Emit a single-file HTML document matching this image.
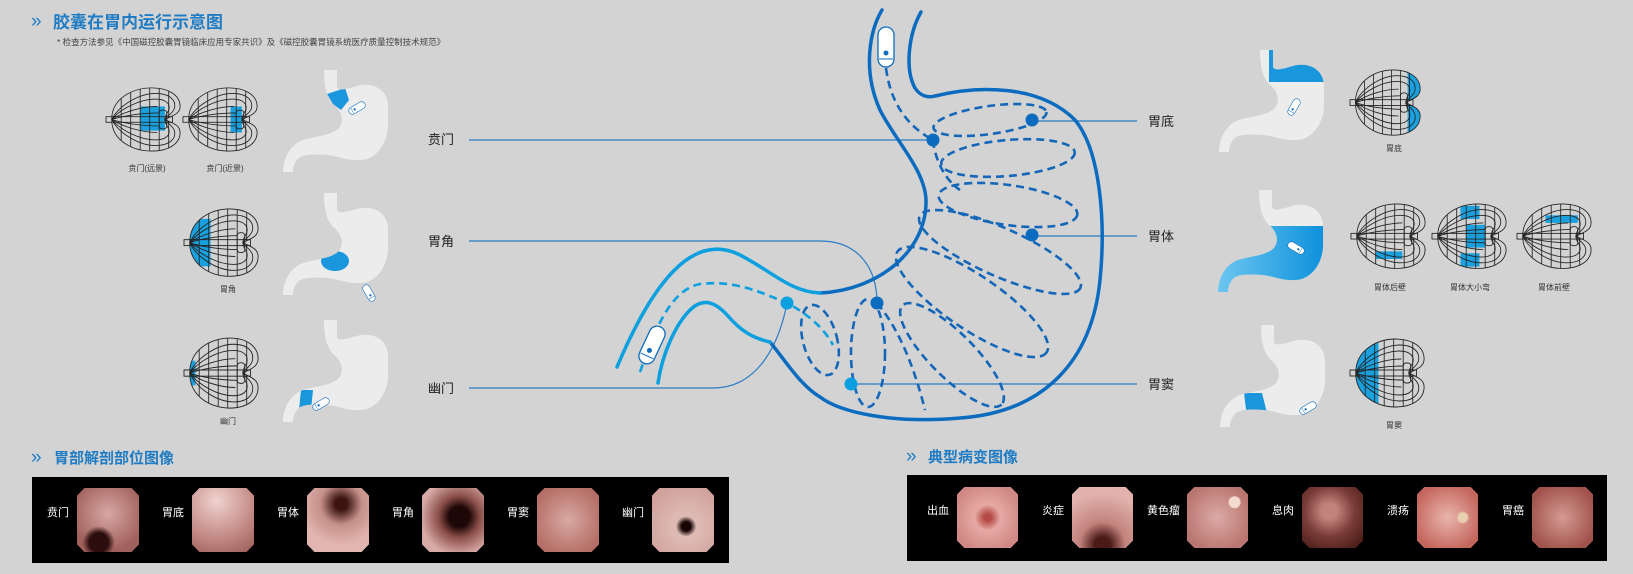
<!DOCTYPE html>
<html><head><meta charset="utf-8"><style>
html,body{margin:0;padding:0;background:#d3d3d3;}
body{width:1633px;height:574px;position:relative;overflow:hidden;font-family:"Liberation Sans","Noto Sans CJK SC",sans-serif;}
svg{position:absolute;left:0;top:0;}
.strip{position:absolute;background:#000;overflow:hidden;}
.im{position:absolute;width:62px;height:64px;clip-path:polygon(12% 0,88% 0,100% 12%,100% 88%,88% 100%,12% 100%,0 88%,0 12%);}
.lb{position:absolute;color:#fff;font-size:11px;top:27px;}
</style></head><body>
<svg width="1633" height="574" viewBox="0 0 1633 574">
<defs>
<path id="stp" d="M41,0 L54,0 L54,17 C56,22 66,18 74,16 C88,12 104,18 105,35 L105,57 C104,75 92,90 77,90 C64,91 56,86 44,85 C30,84 18,84 14,90 C11,94 10,98 10,102 L0,102 C0,90 6,75 20,70 C32,66 48,66 56,58 C62,50 58,40 50,34 C45,28 41,20 41,0 Z"/>
<clipPath id="stc"><use href="#stp"/></clipPath>
<path id="gout" d="M6,36 C6,12 30,2 48,2 C66,2 78,10 78,22 C78,30 70,32 62,36 C70,40 78,42 78,50 C78,62 66,70 48,70 C30,70 6,60 6,36 Z"/>
<clipPath id="gc"><use href="#gout"/></clipPath>
<g id="grid" fill="none" stroke="#222" stroke-width="0.9">
<use href="#gout"/>
<g clip-path="url(#gc)">
<path d="M16,0V72M26,0V72M36,0V72M46,0V72M56,0V72M66,0V72"/>
</g>
<path d="M6,36 C14,20 36,8 52,8 C68,8 74,16 72,24 C70,30 64,32 62,36"/>
<path d="M6,36 C16,24 36,14 52,14 C64,14 68,20 66,26 C64,30 62,32 62,36"/>
<path d="M6,36 C18,28 38,22 54,22"/>
<path d="M6,36 C18,32 38,29 56,29"/>
<path d="M6,36 C14,52 36,64 52,64 C68,64 74,56 72,48 C70,42 64,40 62,36"/>
<path d="M6,36 C16,48 36,58 52,58 C64,58 68,52 66,46 C64,42 62,40 62,36"/>
<path d="M6,36 C18,44 38,50 54,50"/>
<path d="M6,36 C18,40 38,43 56,43"/>
<rect x="0" y="33" width="70" height="6" fill="none"/>
<rect x="56" y="26" width="8" height="20" rx="3"/>
</g>
<linearGradient id="bg1" x1="0" x2="1"><stop offset="0" stop-color="#6cc6ef"/><stop offset="1" stop-color="#0a8fdc"/></linearGradient>
<g id="cap"><rect x="-8" y="-20" width="16" height="40" rx="8" fill="#fff" stroke="#0b6cbf" stroke-width="1.3"/><line x1="-7" y1="12" x2="7" y2="12" stroke="#0b6cbf"/><circle cx="0" cy="6" r="2.5" fill="#0b6cbf"/></g>
</defs>

<text x="31" y="27" font-size="19" fill="#1f7cc4" font-family="Liberation Sans">»</text>
<text x="53" y="28" font-size="17" font-weight="bold" fill="#1f7cc4" font-family="Liberation Sans,Noto Sans CJK SC,sans-serif">胶囊在胃内运行示意图</text>
<text x="57" y="45" font-size="8.5" fill="#444" font-family="Liberation Sans,Noto Sans CJK SC,sans-serif">* 检查方法参见《中国磁控胶囊胃镜临床应用专家共识》及《磁控胶囊胃镜系统医疗质量控制技术规范》</text>
<text x="31" y="463" font-size="19" fill="#1f7cc4">»</text>
<text x="54" y="463" font-size="15" font-weight="bold" fill="#1f7cc4" font-family="Liberation Sans,Noto Sans CJK SC,sans-serif">胃部解剖部位图像</text>
<text x="906" y="462" font-size="19" fill="#1f7cc4">»</text>
<text x="928" y="462" font-size="15" font-weight="bold" fill="#1f7cc4" font-family="Liberation Sans,Noto Sans CJK SC,sans-serif">典型病变图像</text>

<g transform="translate(106,86) scale(0.95,0.93)"><g clip-path="url(#gc)"><rect x="36" y="22" width="26" height="26" fill="#1aa0dd"/></g><use href="#grid"/></g>
<g transform="translate(183,86) scale(0.95,0.93)"><g clip-path="url(#gc)"><rect x="50" y="22" width="12" height="28" fill="#1aa0dd"/></g><use href="#grid"/></g>
<g transform="translate(184,207) scale(0.95,0.99)"><g clip-path="url(#gc)"><rect x="6" y="12" width="22" height="48" fill="#1aa0dd"/></g><use href="#grid"/></g>
<g transform="translate(184,336) scale(0.95,1.03)"><g clip-path="url(#gc)"><rect x="6" y="24" width="6" height="24" fill="#1aa0dd"/></g><use href="#grid"/></g>
<g font-size="8" fill="#333" text-anchor="middle" font-family="Liberation Sans,Noto Sans CJK SC,sans-serif">
<text x="147" y="171">贲门(远景)</text><text x="225" y="171">贲门(近景)</text>
<text x="228" y="292">胃角</text><text x="228" y="424">幽门</text>
<text x="1394" y="151">胃底</text><text x="1390" y="290">胃体后壁</text><text x="1470" y="290">胃体大小弯</text><text x="1554" y="290">胃体前壁</text><text x="1394" y="428">胃窦</text>
</g>

<g transform="translate(283,70)"><use href="#stp" fill="#ececec"/><g clip-path="url(#stc)"><polygon points="44,24 62,18 66,30 58,40 50,34" fill="#1a96dd"/></g><g transform="translate(74,38) rotate(60) scale(0.45)"><use href="#cap"/></g></g>
<g transform="translate(283,193)"><use href="#stp" fill="#ececec"/><g clip-path="url(#stc)"><ellipse cx="52" cy="68" rx="14" ry="10" fill="#1a96dd"/></g><g transform="translate(86,100) rotate(-30) scale(0.45)"><use href="#cap"/></g></g>
<g transform="translate(283,320)"><use href="#stp" fill="#ececec"/><g clip-path="url(#stc)"><polygon points="18,70 30,70 28,90 16,90" fill="#1a96dd"/></g><g transform="translate(38,84) rotate(60) scale(0.45)"><use href="#cap"/></g></g>

<g transform="translate(1219,50)"><use href="#stp" fill="#ececec"/><g clip-path="url(#stc)"><rect x="50" y="0" width="60" height="32" fill="#1a96dd"/></g><g transform="translate(75,57) rotate(30) scale(0.45)"><use href="#cap"/></g></g>
<g transform="translate(1218,190)"><use href="#stp" fill="#ececec"/><g clip-path="url(#stc)"><rect x="0" y="36" width="110" height="70" fill="url(#bg1)"/></g><g transform="translate(78,58) rotate(-60) scale(0.45)"><use href="#cap"/></g></g>
<g transform="translate(1220,325)"><use href="#stp" fill="#ececec"/><g clip-path="url(#stc)"><polygon points="24,68 42,68 50,100 28,100" fill="#1a96dd"/></g><g transform="translate(88,83) rotate(60) scale(0.45)"><use href="#cap"/></g></g>

<g transform="translate(1350,68) scale(0.9,0.96)"><g clip-path="url(#gc)"><rect x="64" y="0" width="16" height="72" fill="#1aa0dd"/></g><use href="#grid"/></g>
<g transform="translate(1351,202) scale(0.95,0.95)"><g clip-path="url(#gc)"><rect x="26" y="52" width="28" height="8" fill="#1aa0dd"/></g><use href="#grid"/></g>
<g transform="translate(1432,202) scale(0.95,0.95)"><g clip-path="url(#gc)"><rect x="30" y="4" width="20" height="14" fill="#1aa0dd"/><rect x="36" y="24" width="20" height="24" fill="#1aa0dd"/><rect x="30" y="54" width="20" height="14" fill="#1aa0dd"/></g><use href="#grid"/></g>
<g transform="translate(1517,202) scale(0.95,0.95)"><g clip-path="url(#gc)"><rect x="30" y="14" width="34" height="8" fill="#1aa0dd"/></g><use href="#grid"/></g>
<g transform="translate(1350,337) scale(0.95,1.0)"><g clip-path="url(#gc)"><rect x="6" y="0" width="24" height="72" fill="#1aa0dd"/></g><use href="#grid"/></g>

<g font-size="13" fill="#222" font-family="Liberation Sans,Noto Sans CJK SC,sans-serif">
<text x="428" y="144">贲门</text><text x="428" y="246">胃角</text><text x="428" y="393">幽门</text>
<text x="1148" y="126">胃底</text><text x="1148" y="241">胃体</text><text x="1148" y="389">胃窦</text>
</g>
<g fill="none" stroke="#2b7cc4" stroke-width="1.2">
<path d="M469,140 H933"/>
<path d="M469,241 H820 C860,241 877,270 877,303"/>
<path d="M469,388 H713 C760,388 780,340 787,303"/>
<path d="M1032,121 H1137"/><path d="M1032,236 H1137"/><path d="M851,384 H1137"/>
</g>
<g fill="none" stroke-linecap="round" stroke-width="3.5">
<path stroke="#0b6cbf" d="M882,10 C870,30 862,70 880,110 C895,140 925,170 926,200 C927,250 880,290 820,293"/>
<path stroke="#0aa0e0" d="M820,293 C790,292 770,270 740,255 C700,235 660,265 617,367"/>
<path stroke="#0b6cbf" d="M921,12 C908,35 905,70 915,88 C920,96 928,98 935,96 C980,85 1040,85 1075,120 C1100,150 1106,220 1100,280 C1092,360 1045,412 960,418 C890,424 840,412 820,397 C800,385 785,360 770,342"/>
<path stroke="#0aa0e0" d="M770,342 C752,338 740,330 728,316 C712,298 700,300 690,310 C675,325 662,355 658,383"/>
</g>
<g fill="none" stroke="#1466b8" stroke-width="2.6" stroke-dasharray="8 5">
<path d="M886,68 C890,100 905,125 933,140"/>
<ellipse cx="990" cy="120" rx="57" ry="14" transform="rotate(-8 990 120)"/>
<ellipse cx="1008" cy="158" rx="67" ry="18" transform="rotate(-5 1008 158)"/>
<ellipse cx="1008" cy="205" rx="70" ry="20" transform="rotate(8 1008 205)"/>
<ellipse cx="1000" cy="252" rx="88" ry="24" transform="rotate(24 1000 252)"/>
<ellipse cx="972" cy="302" rx="90" ry="27" transform="rotate(34 972 302)"/>
<ellipse cx="952" cy="355" rx="70" ry="22" transform="rotate(45 952 355)"/>
<ellipse cx="868" cy="353" rx="17" ry="54"/>
<ellipse cx="820" cy="340" rx="17" ry="36" transform="rotate(-15 820 340)"/>
<path d="M933,140 C935,160 945,180 960,190"/>
<path d="M877,303 C900,330 915,370 925,410"/>
</g>
<path fill="none" stroke="#0aa0e0" stroke-width="2.6" stroke-dasharray="8 5" d="M640,372 C655,330 670,290 700,284 C735,280 760,292 787,303 C810,315 825,330 833,345"/>
<g fill="#0b6cbf"><circle cx="933" cy="140" r="6.5"/><circle cx="1032" cy="120" r="6.5"/><circle cx="1032" cy="235" r="6.5"/><circle cx="877" cy="303" r="6.5"/></g>
<g fill="#0aa0e0"><circle cx="787" cy="303" r="6.5"/><circle cx="851" cy="384" r="6.5"/></g>
<g transform="translate(886,47)"><use href="#cap"/></g>
<g transform="translate(652,345) rotate(25)"><use href="#cap"/></g>
</svg>

<div class="strip" style="left:32px;top:477px;width:697px;height:86px;">
<span class="lb" style="left:15px">贲门</span><div class="im" style="left:45px;top:11px;background:radial-gradient(circle at 35% 85%,#2a0d0c 0 14%,transparent 24%),radial-gradient(circle at 50% 40%,#d9a7a3,#a0615c 75%);"></div>
<span class="lb" style="left:130px">胃底</span><div class="im" style="left:160px;top:11px;background:radial-gradient(circle at 40% 20%,#efd2cf,#c28883 60%,#9a5b55);"></div>
<span class="lb" style="left:245px">胃体</span><div class="im" style="left:275px;top:11px;background:radial-gradient(circle at 55% 25%,#3b1310 0 10%,#c58f88 35%,#e2b6b0 70%);"></div>
<span class="lb" style="left:360px">胃角</span><div class="im" style="left:390px;top:11px;background:radial-gradient(circle at 60% 45%,#1d0807 0 20%,#8a4d48 40%,#d7aaa5 75%);"></div>
<span class="lb" style="left:475px">胃窦</span><div class="im" style="left:505px;top:11px;background:radial-gradient(circle at 50% 50%,#d8a9a2,#b56e66 80%);"></div>
<span class="lb" style="left:590px">幽门</span><div class="im" style="left:620px;top:11px;background:radial-gradient(circle at 55% 60%,#180605 0 9%,#e0bcb6 20%,#d1a29c 80%);"></div>
</div>
<div class="strip" style="left:907px;top:475px;width:700px;height:86px;">
<span class="lb" style="left:20px">出血</span><div class="im" style="left:50px;top:12px;width:61px;height:61px;background:radial-gradient(circle at 50% 50%,#b34a45 0 8%,#e7a9a4 30%,#cf8883 80%);"></div>
<span class="lb" style="left:135px">炎症</span><div class="im" style="left:165px;top:12px;width:61px;height:61px;background:radial-gradient(circle at 50% 95%,#4a1a17 0 12%,#c3837d 35%,#e2b3ae 80%);"></div>
<span class="lb" style="left:240px">黄色瘤</span><div class="im" style="left:280px;top:12px;width:61px;height:61px;background:radial-gradient(circle at 78% 25%,#f3dccf 0 8%,transparent 10%),radial-gradient(circle at 50% 50%,#dcaaa6,#b9756f 80%);"></div>
<span class="lb" style="left:365px">息肉</span><div class="im" style="left:395px;top:12px;width:61px;height:61px;background:radial-gradient(circle at 45% 40%,#c2837d 0 15%,#7a3d37 50%,#4a1c18 90%);"></div>
<span class="lb" style="left:480px">溃疡</span><div class="im" style="left:510px;top:12px;width:61px;height:61px;background:radial-gradient(circle at 75% 50%,#e8d0b0 0 8%,transparent 12%),radial-gradient(circle at 50% 50%,#e9b5ad,#c4665d 80%);"></div>
<span class="lb" style="left:595px">胃癌</span><div class="im" style="left:625px;top:12px;width:61px;height:61px;background:radial-gradient(circle at 50% 50%,#d49a92,#a0524b 80%);"></div>
</div>
</body></html>
